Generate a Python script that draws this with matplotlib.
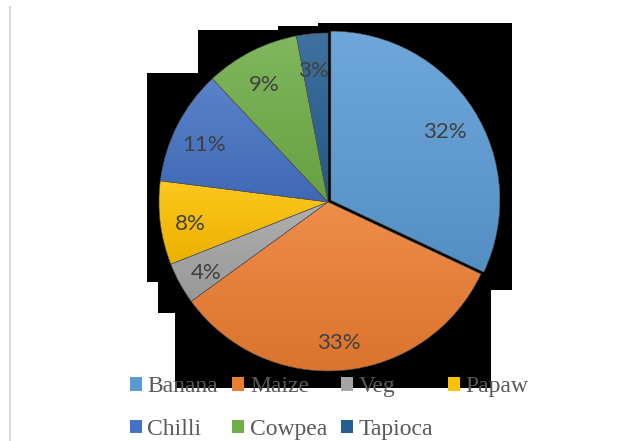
import numpy as np
import matplotlib
matplotlib.use("Agg")
import matplotlib.pyplot as plt
import matplotlib.transforms as mtransforms
from matplotlib.colors import LinearSegmentedColormap, to_rgb
from matplotlib.patches import Polygon, Patch
from matplotlib.lines import Line2D

# data
crops = ["Banana", "Maize", "Veg", "Papaw", "Chilli", "Cowpea", "Tapioca"]
shares = [32, 33, 4, 8, 11, 9, 3]
colors = ["#5B9BD5", "#ED7D31", "#A5A5A5", "#FFC000", "#4472C4", "#70AD47", "#255E91"]

W, H = 642, 441


def fx(x):
    return x / W


def fy(y):
    return 1 - y / H


def shade(c, f):
    r = np.array(to_rgb(c))
    if f > 0:
        return tuple(r + (1 - r) * f)
    return tuple(r * (1 + f))


fig = plt.figure(figsize=(W / 100, H / 100), dpi=100)

# black backdrop behind the pie (as in the source image)
outline = [(318, 23), (512, 23), (512, 290), (491, 290), (491, 388), (175, 388),
           (175, 313), (158, 313), (158, 282), (147, 282), (147, 73), (198, 73),
           (198, 30), (278, 30), (278, 26), (318, 26)]
fig.add_artist(Polygon([(fx(x), fy(y)) for x, y in outline], closed=True,
                       transform=fig.transFigure, facecolor="black",
                       edgecolor="none", zorder=0))
# thin chart border on the left
fig.add_artist(Line2D([fx(10), fx(10)], [fy(7), fy(441)], transform=fig.transFigure,
                      color="#d9d9d9", lw=1.5, zorder=0))

# pie axes: center (328, 202) px, radius 169 px
r_px = 169
lim = 1.1
size = 2 * lim * r_px
cx, cy = 328, 202
ax = fig.add_axes([fx(cx - size / 2), fy(cy + size / 2), size / W, size / H])
ax.patch.set_visible(False)

explode = [0.02, 0, 0, 0, 0, 0, 0]
wedges, texts, autotexts = ax.pie(
    shares, colors=colors, startangle=90, counterclock=False,
    explode=explode, autopct="%d%%", pctdistance=0.81,
    wedgeprops=dict(edgecolor="#555555", linewidth=0.4),
    textprops=dict(color="#404040", fontsize=16, family=["Lato", "DejaVu Sans"]))

# subtle vertical gradient on each slice
grad = np.linspace(0, 1, 256).reshape(-1, 1)
for w, c in zip(wedges, colors):
    t = np.radians(np.linspace(w.theta1, w.theta2, 100))
    x0, y0 = w.center
    xs = np.concatenate([[x0], x0 + w.r * np.cos(t)])
    ys = np.concatenate([[y0], y0 + w.r * np.sin(t)])
    cmap = LinearSegmentedColormap.from_list("g", [shade(c, -0.08), shade(c, 0.12)])
    im = ax.imshow(grad, cmap=cmap, origin="lower", aspect="auto",
                   extent=[xs.min(), xs.max(), ys.min(), ys.max()], zorder=1.5)
    im.set_clip_path(w)
    w.set_facecolor("none")
    w.set_zorder(1.6)

# labels sit a little lower in the original
nudge = mtransforms.ScaledTranslation(-2 / 100, -5 / 100, fig.dpi_scale_trans)
for t in autotexts:
    t.set_zorder(3)
    t.set_transform(t.get_transform() + nudge)

ax.set_xlim(-lim, lim)
ax.set_ylim(-lim, lim)
ax.set_aspect("equal")
ax.axis("off")

# legend, laid out row by row like the original
order = [0, 4, 1, 5, 2, 6, 3]
handles = [Patch(facecolor=colors[i], edgecolor="none") for i in order]
labels = [crops[i] for i in order]
fig.legend(handles, labels, ncol=4, loc="center",
           bbox_to_anchor=(fx(329), fy(408)), frameon=False,
           prop=dict(family="Liberation Serif", size=17),
           labelcolor="#595959", handlelength=0.5, handleheight=0.5,
           handletextpad=0.25, columnspacing=0.6, labelspacing=0.9,
           borderpad=0, borderaxespad=0)

fig.savefig("out.png", dpi=100)
